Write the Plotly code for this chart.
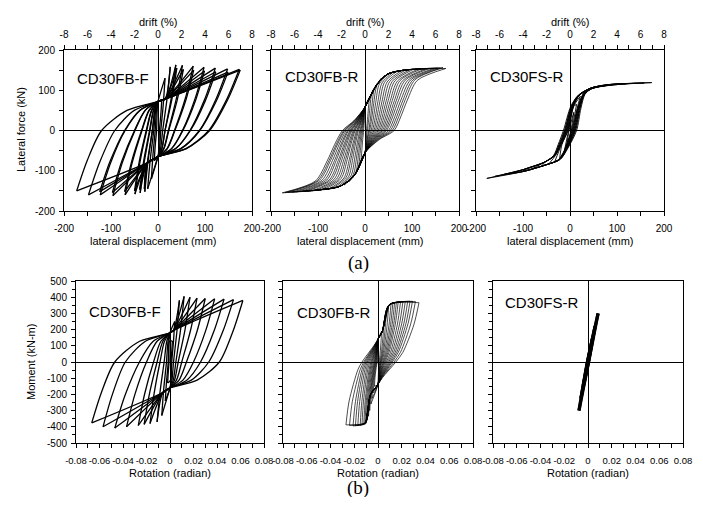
import plotly.graph_objects as go

# ---------------- values ----------------
# (a) CD30FB-F : lateral force (kN) vs lateral displacement (mm)
a1_pos_disp = [8, 15, 26, 38, 40, 52, 54, 75, 76, 98, 99, 122, 123, 148, 149, 173, 175]
a1_pos_force = [75, 130, 158, 163, 155, 162, 152, 160, 150, 157, 148, 155, 146, 153, 145, 152, 150]
a1_pos_zero = [3, 6, 10, 15, 15, 22, 23, 35, 36, 52, 53, 68, 69, 88, 89, 108, 110]
a1_neg_disp = [-8, -14, -22, -28, -29, -38, -39, -49, -50, -70, -71, -96, -97, -123, -124, -148, -173]
a1_neg_force = [-75, -120, -145, -152, -145, -155, -147, -158, -150, -160, -152, -162, -154, -160, -152, -160, -150]
a1_neg_zero = [-3, -6, -9, -12, -12, -17, -18, -24, -25, -34, -35, -49, -50, -70, -71, -92, -120]

# (a) CD30FB-R
a2_pos_disp = [18, 27, 35, 44, 52, 61, 69, 78, 86, 95, 103, 112, 120, 129, 137, 146, 154, 160, 166, 172]
a2_pos_force = [98, 118, 130, 138, 143, 146, 148, 149, 150, 151, 152, 152, 153, 153, 154, 154, 155, 155, 156, 154]
a2_pos_zero = [3, 5, 8, 10, 13, 16, 19, 22, 25, 28, 31, 34, 37, 40, 43, 46, 50, 54, 58, 62]
a2_neg_disp = [-18, -27, -35, -44, -53, -61, -70, -78, -87, -95, -104, -112, -121, -129, -138, -146, -155, -163, -170, -176]
a2_neg_force = [-103, -118, -128, -135, -139, -142, -144, -146, -147, -148, -149, -150, -150, -151, -152, -152, -153, -153, -154, -155]
a2_neg_zero = [-3, -5, -7, -9, -11, -14, -16, -18, -21, -23, -25, -28, -30, -32, -35, -37, -40, -43, -45, -48]

# (a) CD30FS-R
a3_pos_disp = [8, 14, 22, 32, 45, 60, 80, 100, 120, 140, 158, 174]
a3_pos_force = [45, 65, 85, 96, 104, 108, 112, 114, 116, 117, 118, 119]
a3_pos_zero = [2, 3, 4, 5, 6, 7, 8, 9, 10, 11, 12, 14]
a3_neg_disp = [-8, -14, -22, -32, -45, -60, -80, -100, -120, -140, -160, -177]
a3_neg_force = [-45, -62, -70, -76, -83, -89, -95, -100, -105, -109, -114, -119]
a3_neg_zero = [-2, -3, -4, -5, -6, -7, -8, -9, -10, -11, -12, -14]

# (b) CD30FB-F : moment (kN-m) vs rotation (radian)
b1_pos_rot = [0.002, 0.004, 0.008, 0.012, 0.017, 0.023, 0.030, 0.038, 0.046, 0.054, 0.062]
b1_pos_mom = [130, 250, 380, 405, 400, 395, 392, 390, 388, 385, 380]
b1_pos_zero = [0.0008, 0.0015, 0.003, 0.005, 0.007, 0.010, 0.014, 0.020, 0.026, 0.033, 0.042]
b1_neg_rot = [-0.002, -0.004, -0.007, -0.011, -0.017, -0.022, -0.027, -0.037, -0.047, -0.057, -0.0666]
b1_neg_mom = [-130, -240, -330, -370, -380, -385, -392, -400, -408, -400, -376]
b1_neg_zero = [-0.0008, -0.0015, -0.003, -0.005, -0.0085, -0.011, -0.014, -0.020, -0.026, -0.038, -0.047]

# (b) CD30FB-R
b2_pos_rot = [0.003, 0.005, 0.007, 0.009, 0.011, 0.0125, 0.014, 0.0155, 0.017, 0.019, 0.021, 0.023, 0.025, 0.027, 0.029, 0.0315, 0.0345]
b2_pos_mom = [190, 250, 310, 350, 362, 366, 368, 370, 371, 372, 373, 374, 374, 375, 375, 373, 366]
b2_pos_zero = [0.0008, 0.0015, 0.002, 0.0025, 0.003, 0.0038, 0.0045, 0.0052, 0.006, 0.007, 0.008, 0.009, 0.010, 0.011, 0.012, 0.0135, 0.015]
b2_neg_rot = [-0.003, -0.004, -0.005, -0.006, -0.007, -0.008, -0.009, -0.010, -0.011, -0.012, -0.0135, -0.015, -0.017, -0.019, -0.021, -0.024, -0.027]
b2_neg_mom = [-150, -190, -225, -260, -300, -335, -360, -378, -385, -388, -390, -392, -393, -394, -395, -392, -388]
b2_neg_zero = [-0.0005, -0.001, -0.0015, -0.002, -0.0025, -0.003, -0.0037, -0.0045, -0.0052, -0.006, -0.007, -0.008, -0.009, -0.010, -0.011, -0.012, -0.0135]

# (b) CD30FS-R
b3_pos_rot = [0.002, 0.004, 0.006, 0.0085]
b3_pos_mom = [80, 150, 220, 300]
b3_pos_zero = [0.0002, 0.0003, 0.0004, 0.0005]
b3_neg_rot = [-0.002, -0.004, -0.006, -0.0076]
b3_neg_mom = [-75, -150, -225, -300]
b3_neg_zero = [-0.0002, -0.0003, -0.0004, -0.0005]

panel_labels = ["CD30FB-F", "CD30FB-R", "CD30FS-R"]

disp_tickvals = [-200, -100, 0, 100, 200]
disp_ticktext = ["-200", "-100", "0", "100", "200"]
force_tickvals = [-200, -100, 0, 100, 200]
force_ticktext = ["-200", "-100", "0", "100", "200"]
drift_tickvals = [-8, -6, -4, -2, 0, 2, 4, 6, 8]
drift_ticktext = ["-8", "-6", "-4", "-2", "0", "2", "4", "6", "8"]
rot_tickvals = [-0.08, -0.06, -0.04, -0.02, 0, 0.02, 0.04, 0.06, 0.08]
rot_ticktext = ["-0.08", "-0.06", "-0.04", "-0.02", "0", "0.02", "0.04", "0.06", "0.08"]
mom_tickvals = [-500, -400, -300, -200, -100, 0, 100, 200, 300, 400, 500]
mom_ticktext = ["-500", "-400", "-300", "-200", "-100", "0", "100", "200", "300", "400", "500"]

# ---------------- branch shape templates ----------------
SHAPE_A1 = {
    "asc": {"fa": [0.58], "fb": [0.5], "post": [(0, 50, 0.55), (0, 72, 0), (15, 78, 0)]},
    "desc": {"fa": [0.58], "fb": [0.5], "post": [(0, -45, 0.55), (0, -65, 0), (-22, -80, 0)]},
}
SHAPE_B1 = {
    "asc": {"fa": [0.58], "fb": [0.5], "post": [(0, 128, 0.55), (0, 180, 0), (0.003, 195, 0)]},
    "desc": {"fa": [0.58], "fb": [0.5], "post": [(0, -112, 0.55), (0, -160, 0), (-0.006, -188, 0)]},
}
SHAPE_A2 = {
    "asc": {"fa": [0.45, 0.255, 0.127], "fb": [0.81, 0.49, 0.22],
            "post": [(0, 24, 0.5), (0, 58, 0), (26, 115, 0), (48, 140, 0), (83, 150, 0)]},
    "desc": {"fa": [0.45, 0.255, 0.127], "fb": [0.81, 0.49, 0.22],
             "post": [(0, -22, 0.5), (0, -55, 0), (-23, -112, 0), (-52, -138, 0), (-94, -147, 0)]},
}
SHAPE_A3 = {
    "asc": {"pre": [(-96, -96, 0), (-53, -78, 0), (-28, -62, 0.5), (-14, -35, 0.8)],
            "post": [(10, 60, 0.6), (22, 88, 0.3), (46, 106, 0), (82, 114, 0)]},
    "desc": {"pre": [(82, 113, 0), (46, 104, 0), (25, 90, 0.5), (12, 55, 0.8)],
             "post": [(-12, -45, 0.5), (-25, -72, 0.3), (-53, -86, 0), (-96, -101, 0)]},
}
SHAPE_B2 = {
    "asc": {"fa": [0.8, 0.25], "fb": [0.62, 0.12],
            "post": [(0, 88, 0.35), (0, 140, 0), (0.0037, 191, 0), (0.0093, 352, 0)]},
    "desc": {"fa": [0.78, 0.3], "fb": [0.63, 0.16],
             "post": [(0, -97, 0.25), (0, -138, 0), (-0.0062, -200, 0), (-0.009, -320, 0), (-0.0105, -375, 0)]},
}
SHAPE_B3 = {"asc": {}, "desc": {}}


def branch(p0, z, p1, sh, m):
    x0, y0 = p0
    x1, y1 = p1
    s = 1 if x1 > x0 else -1
    pts = [p0]
    for a, b in zip(sh.get("fa", []), sh.get("fb", [])):
        pts.append((z + (x0 - z) * a, y0 * b))
    for (px, py, k) in sh.get("pre", []):
        xx = px + k * z
        if (xx - x0) * s > m and (z - xx) * s > 0 and abs(py) < abs(y0) * 0.99:
            pts.append((xx, py))
    pts.append((z, 0))
    for (px, py, k) in sh.get("post", []):
        xx = px + k * z
        if (xx - z) * s > 0 and (x1 - xx) * s > m and abs(py) < abs(y1) * 0.99:
            pts.append((xx, py))
    pts.append(p1)
    return pts


def build_loops(pd_, pf, pz, nd, nf, nz, shape, m):
    xs, ys = [], []
    for i in range(len(pd_)):
        asc = branch((nd[i], nf[i]), nz[i], (pd_[i], pf[i]), shape["asc"], m)
        desc = branch((pd_[i], pf[i]), pz[i], (nd[i], nf[i]), shape["desc"], m)
        for seg in (asc, desc):
            xs += [p[0] for p in seg] + [None]
            ys += [p[1] for p in seg] + [None]
    return xs, ys


# page body has an 8 px margin: the figure is sized to fit inside it
OFF = 8
W, H = 703 - 2 * OFF, 505 - 2 * OFF


def fx(p):
    return (p - OFF) / W


def fy(p):
    return 1 - (p - OFF) / H


FONT = "Liberation Sans, Arial, sans-serif"
SERIF = "Liberation Serif, Times New Roman, serif"

fig = go.Figure()

panels = [
    (a1_pos_disp, a1_pos_force, a1_pos_zero, a1_neg_disp, a1_neg_force, a1_neg_zero, SHAPE_A1, 3, 1.3),
    (a2_pos_disp, a2_pos_force, a2_pos_zero, a2_neg_disp, a2_neg_force, a2_neg_zero, SHAPE_A2, 3, 0.7),
    (a3_pos_disp, a3_pos_force, a3_pos_zero, a3_neg_disp, a3_neg_force, a3_neg_zero, SHAPE_A3, 2, 0.9),
    (b1_pos_rot, b1_pos_mom, b1_pos_zero, b1_neg_rot, b1_neg_mom, b1_neg_zero, SHAPE_B1, 0.001, 1.3),
    (b2_pos_rot, b2_pos_mom, b2_pos_zero, b2_neg_rot, b2_neg_mom, b2_neg_zero, SHAPE_B2, 0.0008, 0.7),
    (b3_pos_rot, b3_pos_mom, b3_pos_zero, b3_neg_rot, b3_neg_mom, b3_neg_zero, SHAPE_B3, 0.0002, 3.2),
]

for i, (pd_, pf, pz, nd, nf, nz, shp, m, lw) in enumerate(panels):
    xs, ys = build_loops(pd_, pf, pz, nd, nf, nz, shp, m)
    n = i + 1
    fig.add_trace(go.Scatter(
        x=xs, y=ys, mode="lines",
        line=dict(color="black", width=lw, shape="spline", smoothing=0.8),
        connectgaps=False, showlegend=False, hoverinfo="skip",
        xaxis="x" if n == 1 else f"x{n}", yaxis="y" if n == 1 else f"y{n}",
    ))

# empty traces that carry the top drift axes
for j, ya in zip([7, 8, 9], ["y", "y2", "y3"]):
    fig.add_trace(go.Scatter(x=[None], y=[None], xaxis=f"x{j}", yaxis=ya,
                             showlegend=False, hoverinfo="skip"))

top_dom = [fy(211), fy(50)]
bot_dom = [fy(443), fy(281)]
top_x = [[fx(64), fx(252)], [fx(271), fx(459)], [fx(476), fx(664)]]
bot_x = [[fx(76), fx(264)], [fx(283), fx(473)], [fx(493), fx(683)]]

tickfont = dict(family=FONT, size=10, color="black")


def axis(**kw):
    d = dict(showline=True, linecolor="black", linewidth=1, ticks="outside", ticklen=4,
             tickwidth=1, tickcolor="black", showgrid=False, zeroline=True,
             zerolinecolor="black", zerolinewidth=1, tickfont=tickfont, mirror=True,
             tickangle=0, fixedrange=True, automargin=False)
    d.update(kw)
    return d


layout = {}
for k in range(3):
    xn = "xaxis" if k == 0 else f"xaxis{k+1}"
    yn = "yaxis" if k == 0 else f"yaxis{k+1}"
    yref = "y" if k == 0 else f"y{k+1}"
    xref = "x" if k == 0 else f"x{k+1}"
    layout[xn] = axis(domain=top_x[k], anchor=yref, range=[-200, 200], ticklabelstandoff=4,
                      tickmode="array", tickvals=disp_tickvals, ticktext=disp_ticktext,
                      minor=dict(ticks="outside", ticklen=4, tickcolor="black", dtick=50, tick0=0))
    layout[yn] = axis(domain=top_dom, anchor=xref, range=[-200, 200], ticklabelstandoff=2,
                      tickmode="array", tickvals=force_tickvals, ticktext=force_ticktext,
                      showticklabels=(k == 0),
                      minor=dict(ticks="outside", ticklen=4, tickcolor="black", dtick=50, tick0=0))
    layout[f"xaxis{k+7}"] = axis(domain=top_x[k], anchor=yref, overlaying=xref, side="top",
                                  range=[-8, 8], zeroline=False, mirror=False, ticklabelstandoff=3,
                                  tickmode="array", tickvals=drift_tickvals, ticktext=drift_ticktext,
                                  minor=dict(ticks="outside", ticklen=4, tickcolor="black", dtick=1, tick0=0))
for k in range(3):
    n = k + 4
    layout[f"xaxis{n}"] = axis(domain=bot_x[k], anchor=f"y{n}", range=[-0.08, 0.08], ticklabelstandoff=5,
                               tickmode="array", tickvals=rot_tickvals, ticktext=rot_ticktext,
                               tickfont=dict(family=FONT, size=9.5, color="black"),
                               minor=dict(ticks="outside", ticklen=4, tickcolor="black", dtick=0.01, tick0=0))
    layout[f"yaxis{n}"] = axis(domain=bot_dom, anchor=f"x{n}", range=[-500, 500], ticklabelstandoff=2,
                               tickmode="array", tickvals=mom_tickvals, ticktext=mom_ticktext,
                               showticklabels=(k == 0),
                               minor=dict(ticks="outside", ticklen=3, tickcolor="black", dtick=50, tick0=0))

ann = []


def text(x, y, t, size=11, fam=FONT, **kw):
    d = dict(x=fx(x), y=fy(y), xref="paper", yref="paper", text=t, showarrow=False,
             xanchor="center", yanchor="middle",
             font=dict(family=fam, size=size, color="black"))
    d.update(kw)
    ann.append(d)


for cx in [158, 365, 570]:
    text(cx, 22, "drift (%)")
for cx in [153, 360, 570]:
    text(cx, 241, "lateral displacement (mm)")
for cx in [170, 378, 588]:
    text(cx, 473, "Rotation (radian)")
text(21, 130, "Lateral force (kN)", textangle=-90)
text(31, 362, "Moment (kN-m)", textangle=-90)
text(358, 263, "(a)", size=19, fam=SERIF)
text(358, 488, "(b)", size=19, fam=SERIF)

for (x, y), t in zip([(75, 78), (283, 77), (488, 77)], panel_labels):
    text(x, y, t, size=15, xanchor="left")
for (x, y), t in zip([(87, 311), (295, 312), (503, 302)], panel_labels):
    text(x, y, t, size=15, xanchor="left")

fig.update_layout(
    width=W, height=H, margin=dict(l=0, r=0, t=0, b=0),
    paper_bgcolor="white", plot_bgcolor="white",
    annotations=ann, showlegend=False, **layout,
)

fig.write_html("out.html")
